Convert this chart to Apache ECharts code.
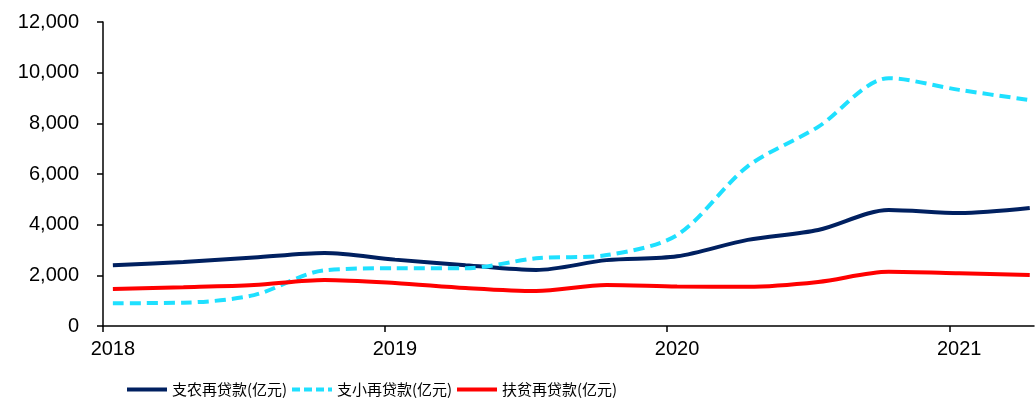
<!DOCTYPE html>
<html>
<head>
<meta charset="utf-8">
<script src="https://cdn.jsdelivr.net/npm/echarts@6/dist/echarts.min.js"></script>
<style>
html, body { margin: 0; padding: 0; background: #fff; }
#chart { width: 1035px; height: 401px; }
</style>
</head>
<body>
<div id="chart"></div>
<script>
// 季度数据（亿元），2018Q1 - 2021Q2
var quarters = ['2018Q1','2018Q2','2018Q3','2018Q4','2019Q1','2019Q2','2019Q3','2019Q4',
                '2020Q1','2020Q2','2020Q3','2020Q4','2021Q1','2021Q2'];
// 横轴位置（年）
var xPos = [2018.035,2018.285,2018.535,2018.785,2019.035,2019.285,2019.535,2019.785,
            2020.035,2020.285,2020.535,2020.785,2021.035,2021.285];
var zhiNong = [2400,2530,2700,2880,2620,2400,2210,2600,2750,3400,3790,4580,4460,4660];
var zhiXiao = [900,920,1220,2200,2280,2280,2670,2800,3590,6300,7860,9780,9320,8920];
var fuPin   = [1460,1530,1620,1820,1700,1500,1380,1620,1560,1550,1740,2140,2080,2010];
var yearTicks = [2018,2019,2020,2021];
var yearLabelPos = [2018.035,2019.035,2020.035,2021.035];
var names = ['支农再贷款(亿元)','支小再贷款(亿元)','扶贫再贷款(亿元)'];
var colors = ['#002060','#1FE0FF','#FF0000'];

function pairs(vals){
    var out = [];
    for (var i = 0; i < vals.length; i++) out.push([xPos[i], vals[i]]);
    return out;
}

var myChart = echarts.init(document.getElementById('chart'));

var legendText = {fontFamily: 'Noto Sans CJK SC', fontSize: 15, color: '#000'};

function legendItem(i, left, dash){
    return {
        data: [names[i]], left: left, top: 377,
        itemWidth: 40, itemHeight: 14, itemGap: 6,
        itemStyle: {opacity: 0},
        lineStyle: {color: colors[i], width: 4, type: dash},
        textStyle: legendText
    };
}

var option = {
    animation: false,
    grid: {left: 103, right: 1, top: 22, bottom: 75, containLabel: false},
    legend: [
        legendItem(0, 120, 'solid'),
        legendItem(1, 285, [8, 4]),
        legendItem(2, 450, 'solid')
    ],
    xAxis: {
        type: 'value',
        min: 2018,
        max: 2021.3,
        interval: 1,
        splitLine: {show: false},
        axisLine: {lineStyle: {color: '#000', width: 1.5}},
        axisTick: {show: true, length: 6, customValues: yearTicks, lineStyle: {color: '#000', width: 1.5}},
        axisLabel: {
            customValues: yearLabelPos,
            formatter: function(v){ return String(Math.floor(v)); },
            fontFamily: 'Liberation Sans', fontSize: 20, color: '#000', margin: 13
        }
    },
    yAxis: {
        type: 'value',
        min: 0,
        max: 12000,
        interval: 2000,
        splitLine: {show: false},
        axisLine: {show: true, lineStyle: {color: '#000', width: 1.5}},
        axisTick: {show: true, length: 6, lineStyle: {color: '#000', width: 1.5}},
        axisLabel: {
            formatter: function(v){ return v.toLocaleString('en-US'); },
            fontFamily: 'Liberation Sans', fontSize: 20, color: '#000', margin: 24
        }
    },
    series: [
        {
            name: names[0], type: 'line', smooth: 0.3, symbol: 'none',
            data: pairs(zhiNong),
            itemStyle: {color: colors[0]},
            lineStyle: {color: colors[0], width: 4}
        },
        {
            name: names[1], type: 'line', smooth: 0.3, symbol: 'none',
            data: pairs(zhiXiao),
            itemStyle: {color: colors[1]},
            lineStyle: {color: colors[1], width: 4, type: [11, 6]}
        },
        {
            name: names[2], type: 'line', smooth: 0.3, symbol: 'none',
            data: pairs(fuPin),
            itemStyle: {color: colors[2]},
            lineStyle: {color: colors[2], width: 4}
        }
    ]
};

myChart.setOption(option);
</script>
</body>
</html>
